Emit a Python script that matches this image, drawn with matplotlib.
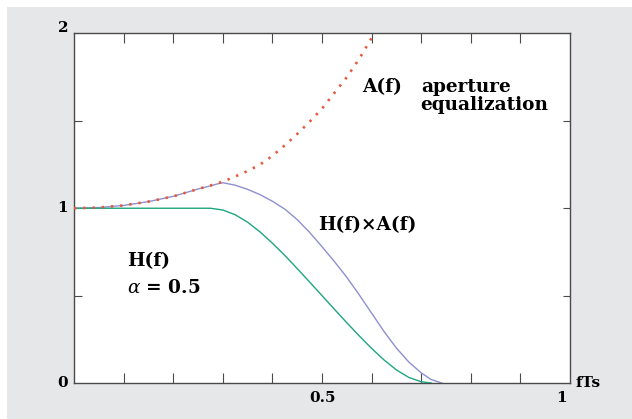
import matplotlib
matplotlib.use('Agg')
import matplotlib.pyplot as plt

plt.rcParams['font.family'] = ['DejaVu Serif']
plt.rcParams['mathtext.fontset'] = 'dejavuserif'

# ── curves, read point by point (f in units of 1/Ts) ────────────────────────
f_A = [0.0, 0.05, 0.10, 0.15, 0.20, 0.25, 0.275, 0.30, 0.325, 0.35, 0.375,
       0.40, 0.425, 0.45, 0.475, 0.50, 0.525, 0.55, 0.575, 0.60, 0.606]
A_f = [1.0, 1.004, 1.016, 1.038, 1.068, 1.11, 1.13, 1.152, 1.182, 1.213, 1.25,
       1.30, 1.36, 1.425, 1.495, 1.57, 1.66, 1.75, 1.855, 1.975, 2.0]

f_H = [0.0, 0.275, 0.30, 0.325, 0.35, 0.375, 0.40, 0.425, 0.45, 0.475, 0.50,
       0.525, 0.55, 0.575, 0.60, 0.625, 0.65, 0.675, 0.70, 0.72]
H_f = [1.0, 1.0, 0.99, 0.963, 0.92, 0.865, 0.80, 0.73, 0.655, 0.578, 0.50,
       0.422, 0.345, 0.27, 0.198, 0.132, 0.075, 0.032, 0.007, 0.0]

f_HA = [0.0, 0.05, 0.10, 0.15, 0.20, 0.25, 0.275, 0.29, 0.30, 0.325, 0.35,
        0.375, 0.40, 0.425, 0.45, 0.475, 0.50, 0.525, 0.55, 0.575, 0.60,
        0.625, 0.65, 0.675, 0.70, 0.72, 0.741]
HA_f = [1.0, 1.004, 1.016, 1.038, 1.068, 1.11, 1.128, 1.14, 1.146, 1.132,
        1.108, 1.078, 1.04, 0.995, 0.935, 0.862, 0.78, 0.695, 0.605, 0.505,
        0.40, 0.295, 0.20, 0.12, 0.058, 0.02, 0.0]

x_minor = [0.1, 0.2, 0.3, 0.4, 0.5, 0.6, 0.7, 0.8, 0.9]
y_minor = [0.5, 1.0, 1.5]

GREEN = '#1fa57f'
BLUE = '#8e90cf'
RED = '#e4593c'
AXIS = '#4a4a4a'

fig = plt.figure(figsize=(6.32, 4.19), dpi=100)
fig.patch.set_facecolor('white')

# grey panel behind the plot
bg = fig.add_axes([7 / 632, 0, 1 - 7 / 632, 1 - 7 / 419], zorder=-10)
bg.set_facecolor('#e6e7e9')
bg.set_xticks([])
bg.set_yticks([])
for s in bg.spines.values():
    s.set_visible(False)

ax = fig.add_axes([74 / 632, 36 / 419, 496 / 632, 349.5 / 419], zorder=1)
ax.set_facecolor('white')
ax.set_xlim(0, 1)
ax.set_ylim(0, 2)

ax.plot(f_HA, HA_f, color=BLUE, linewidth=1.0, zorder=2)
ax.plot(f_H, H_f, color=GREEN, linewidth=1.0, zorder=3)
ax.plot(f_A, A_f, color=RED, linewidth=1.9, linestyle=(0, (0.9, 2.6)),
        dash_capstyle='butt', zorder=4)

for s in ax.spines.values():
    s.set_color(AXIS)
    s.set_linewidth(1.0)

ax.set_xticks(x_minor)
ax.set_yticks(y_minor)
ax.set_xticklabels([])
ax.set_yticklabels([])
ax.tick_params(axis='x', direction='in', length=7.2, width=0.8, color=AXIS,
               top=True, bottom=True)
ax.tick_params(axis='y', direction='in', length=5.4, width=0.8, color=AXIS,
               left=True, right=True)

# axis numbers
tk = dict(fontsize=11, fontweight='bold', color='black', clip_on=False)
ax.text(-0.012, 0, '0', ha='right', va='center', **tk)
ax.text(-0.012, 1, '1', ha='right', va='center', **tk)
ax.text(-0.012, 2.03, '2', ha='right', va='center', **tk)
ax.text(0.5, -0.045, '0.5', ha='center', va='top', **tk)
ax.text(0.993, -0.045, '1', ha='right', va='top', **tk)
ax.text(1.012, 0.0, 'fTs', ha='left', va='center', **tk)

# curve labels
lb = dict(fontsize=13.3, fontweight='bold', color='black')
ax.text(0.58, 1.695, 'A(f)', ha='left', va='center', **lb)
ax.text(0.701, 1.695, 'aperture', ha='left', va='center', **lb)
ax.text(0.699, 1.59, 'equalization', ha='left', va='center', **lb)
ax.text(0.492, 0.905, 'H(f)\u00d7A(f)', ha='left', va='center', **lb)
ax.text(0.107, 0.695, 'H(f)', ha='left', va='center', **lb)
ax.text(0.107, 0.545, r'$\alpha$ = 0.5', ha='left', va='center', **lb)

fig.savefig('out.png', dpi=100, facecolor='white')
